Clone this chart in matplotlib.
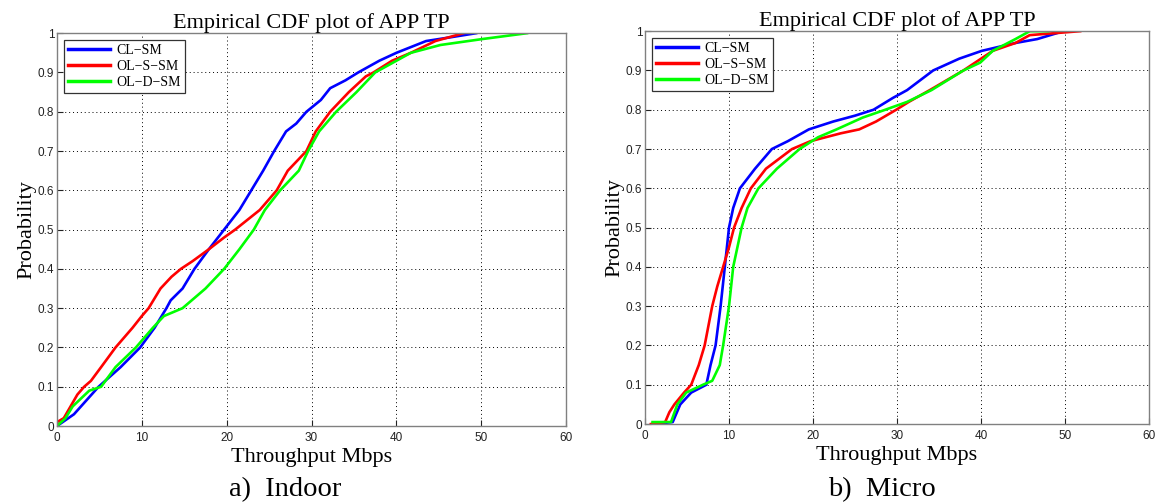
import matplotlib
matplotlib.use('Agg')
import matplotlib.pyplot as plt
import numpy as np

# ---- data (x in Mbps, p = cumulative probability) ----
# a) Indoor
indoor_cl_x = [0, 2.0, 4.9, 7.5, 9.8, 11.5, 12.9, 13.4, 14.8, 16.2, 17.9, 19.7, 21.5, 22.9, 24.3, 25.6, 27.0, 28.2, 29.4, 31.1, 32.2, 34.0, 35.5, 38.0, 40.0, 43.5, 46.5, 49.4]
indoor_cl_p = [0, 0.03, 0.10, 0.15, 0.20, 0.25, 0.30, 0.32, 0.35, 0.40, 0.45, 0.50, 0.55, 0.60, 0.65, 0.70, 0.75, 0.77, 0.80, 0.83, 0.86, 0.88, 0.90, 0.93, 0.95, 0.98, 0.99, 1.0]

indoor_ols_x = [0, 0.8, 1.6, 2.4, 3.2, 4.0, 5.2, 6.9, 8.9, 10.0, 10.8, 12.2, 13.5, 14.6, 16.0, 17.9, 19.7, 21.0, 23.9, 25.9, 27.2, 29.4, 30.5, 32.2, 34.4, 36.4, 37.3, 39.5, 41.7, 44.6, 47.9]
indoor_ols_p = [0.01, 0.02, 0.05, 0.08, 0.10, 0.115, 0.15, 0.20, 0.25, 0.28, 0.30, 0.35, 0.38, 0.40, 0.42, 0.45, 0.48, 0.50, 0.55, 0.60, 0.65, 0.70, 0.75, 0.80, 0.85, 0.89, 0.90, 0.93, 0.95, 0.98, 1.0]

indoor_old_x = [0, 1.0, 1.85, 3.8, 5.2, 6.9, 9.3, 11.3, 12.6, 14.8, 17.5, 19.7, 21.5, 23.2, 24.5, 26.3, 28.5, 29.6, 30.9, 32.9, 35.3, 37.5, 41.7, 45.2, 50.1, 55.4]
indoor_old_p = [0, 0.02, 0.05, 0.09, 0.10, 0.15, 0.20, 0.25, 0.28, 0.30, 0.35, 0.40, 0.45, 0.50, 0.55, 0.60, 0.65, 0.70, 0.75, 0.80, 0.85, 0.90, 0.95, 0.97, 0.985, 1.0]

# b) Micro
micro_cl_x = [0.9, 3.3, 4.2, 5.5, 7.3, 7.8, 8.4, 9.0, 9.5, 10.0, 10.5, 11.3, 13.1, 15.1, 17.0, 19.5, 22.4, 25.0, 27.2, 29.5, 31.2, 34.3, 37.4, 40.1, 44.1, 46.7, 49.8]
micro_cl_p = [0, 0.005, 0.05, 0.08, 0.10, 0.15, 0.20, 0.30, 0.40, 0.50, 0.55, 0.60, 0.65, 0.70, 0.72, 0.75, 0.77, 0.785, 0.80, 0.83, 0.85, 0.90, 0.93, 0.95, 0.97, 0.98, 1.0]

micro_ols_x = [0.7, 2.4, 2.9, 3.5, 4.65, 5.5, 6.4, 7.1, 8.0, 8.6, 9.3, 10.0, 10.6, 11.5, 12.6, 14.4, 17.5, 19.7, 23.3, 25.5, 27.5, 29.9, 31.4, 33.9, 37.9, 41.4, 44.1, 45.8, 51.8]
micro_ols_p = [0, 0.005, 0.03, 0.05, 0.08, 0.10, 0.15, 0.20, 0.30, 0.35, 0.40, 0.45, 0.50, 0.55, 0.60, 0.65, 0.70, 0.72, 0.74, 0.75, 0.77, 0.80, 0.82, 0.85, 0.90, 0.95, 0.97, 0.99, 1.0]

micro_old_x = [0.9, 3.1, 3.85, 4.9, 6.9, 8.0, 8.9, 9.3, 10.0, 10.5, 11.5, 12.2, 13.5, 15.7, 18.4, 20.6, 22.8, 25.9, 28.6, 31.2, 34.1, 37.9, 39.9, 41.4, 44.1, 45.8, 48.0]
micro_old_p = [0.005, 0.005, 0.05, 0.08, 0.10, 0.11, 0.15, 0.20, 0.30, 0.40, 0.50, 0.55, 0.60, 0.65, 0.70, 0.73, 0.75, 0.78, 0.80, 0.82, 0.85, 0.90, 0.92, 0.95, 0.98, 1.0, 1.0]

legendLabels = ['CL\u2212SM', 'OL\u2212S\u2212SM', 'OL\u2212D\u2212SM']
lineColors = ['#0000ff', '#ff0000', '#00ff00']
panelNames = ['a)  Indoor', 'b)  Micro']

serif = 'Liberation Serif'
sans = 'Liberation Sans'

fig = plt.figure(figsize=(11.63, 5.03), dpi=100)
axLeft = fig.add_axes([0.049, 0.153, 0.4377, 0.781])
axRight = fig.add_axes([0.5546, 0.157, 0.4334, 0.781])

panels = [
    (axLeft, [(indoor_cl_x, indoor_cl_p), (indoor_ols_x, indoor_ols_p), (indoor_old_x, indoor_old_p)]),
    (axRight, [(micro_cl_x, micro_cl_p), (micro_ols_x, micro_ols_p), (micro_old_x, micro_old_p)]),
]

for k, (ax, curves) in enumerate(panels):
    for (xx, pp), col, lab in zip(curves, lineColors, legendLabels):
        ax.plot(xx, pp, color=col, linewidth=1.9, label=lab)

    ax.set_xlim(0, 60)
    ax.set_ylim(0, 1)
    ax.set_xticks(np.arange(0, 61, 10))
    ax.set_yticks(np.arange(0, 1.01, 0.1))
    ax.set_yticklabels(['0'] + ['%.1f' % v for v in np.arange(0.1, 0.95, 0.1)] + ['1'])
    ax.grid(True, color='black', linestyle=(0, (1, 3)), linewidth=0.7)
    ax.tick_params(direction='in', length=4, labelsize=8.5, colors='#222222')
    ax.tick_params(axis='x', pad=4)
    ax.tick_params(axis='y', pad=2)
    for lab in ax.get_xticklabels() + ax.get_yticklabels():
        lab.set_family(sans)
    for sp in ax.spines.values():
        sp.set_color('#808080')
        sp.set_linewidth(1.0)

    ax.set_title('Empirical CDF plot of APP TP', family=serif, fontsize=16, pad=4)
    ax.set_xlabel('Throughput Mbps', family=serif, fontsize=16, labelpad=3)
    ax.set_ylabel('Probability', family=serif, fontsize=16, labelpad=1)

    leg = ax.legend(loc='upper left', prop={'family': serif, 'size': 10},
                    handlelength=3.0, borderpad=0.3, labelspacing=0.2,
                    handletextpad=0.5, fancybox=False, framealpha=1,
                    borderaxespad=0.5)
    leg.get_frame().set_edgecolor('#333333')
    leg.get_frame().set_linewidth(0.9)
    for ln in leg.get_lines():
        ln.set_linewidth(2.5)

# panel captions
fig.text(0.245, 0.014, panelNames[0], family=serif, fontsize=20.5, ha='center')
fig.text(0.758, 0.014, panelNames[1], family=serif, fontsize=20.5, ha='center')

plt.savefig('out.png', dpi=100)
